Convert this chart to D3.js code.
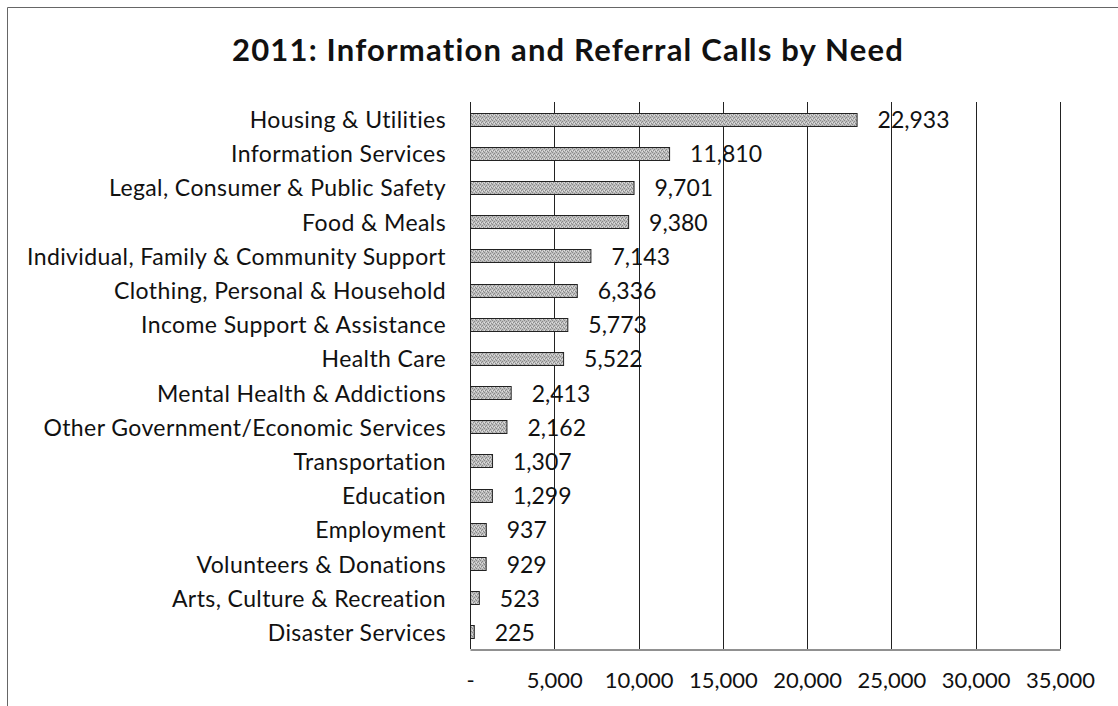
<!DOCTYPE html>
<html>
<head>
<meta charset="utf-8">
<script src="https://cdn.jsdelivr.net/npm/d3@7/dist/d3.min.js"></script>
<style>
  html, body { margin: 0; padding: 0; background: #fff; }
  svg { display: block; }
  text { font-family: Lato, "Liberation Sans", sans-serif; fill: #111; font-variant-ligatures: none; }
</style>
</head>
<body>
<svg id="chart" width="1118" height="706"></svg>
<script>
// Information and referral calls in 2011, by type of need
const categories = [
  "Housing & Utilities",
  "Information Services",
  "Legal, Consumer & Public Safety",
  "Food & Meals",
  "Individual, Family & Community Support",
  "Clothing, Personal & Household",
  "Income Support & Assistance",
  "Health Care",
  "Mental Health & Addictions",
  "Other Government/Economic Services",
  "Transportation",
  "Education",
  "Employment",
  "Volunteers & Donations",
  "Arts, Culture & Recreation",
  "Disaster Services"
];
const calls = [22933, 11810, 9701, 9380, 7143, 6336, 5773, 5522, 2413, 2162, 1307, 1299, 937, 929, 523, 225];
const tickValues = [0, 5000, 10000, 15000, 20000, 25000, 30000, 35000];
const titleText = "2011: Information and Referral Calls by Need";

const svg = d3.select("#chart");

// chart frame (top and left edges)
svg.append("path")
  .attr("d", "M7.5,706 V7.5 H1118")
  .attr("fill", "none")
  .attr("stroke", "#666")
  .attr("stroke-width", 1);

// dithered grey fill for the bars
const defs = svg.append("defs");
const pat = defs.append("pattern")
  .attr("id", "dither")
  .attr("width", 4).attr("height", 4)
  .attr("patternUnits", "userSpaceOnUse");
pat.append("rect").attr("width", 4).attr("height", 4).attr("fill", "#bdbdbd");
[[0,0],[2,1],[1,2],[3,3]].forEach(([px, py]) => {
  pat.append("rect").attr("x", px).attr("y", py).attr("width", 1).attr("height", 1).attr("fill", "#8a8a8a");
});
[[2,3],[0,2]].forEach(([px, py]) => {
  pat.append("rect").attr("x", px).attr("y", py).attr("width", 1).attr("height", 1).attr("fill", "#e0e0e0");
});

const plot = { left: 470, right: 1060, top: 102, bottom: 649 };

const x = d3.scaleLinear().domain([0, 35000]).range([plot.left, plot.right]);
const y = d3.scaleBand().domain(categories).range([plot.top, plot.bottom]).paddingInner(0.62).paddingOuter(0.31);

// title
svg.append("text")
  .attr("x", 568).attr("y", 49)
  .attr("text-anchor", "middle")
  .attr("dominant-baseline", "central")
  .style("font-weight", "bold")
  .style("font-size", "31px")
  .style("letter-spacing", "1.2px")
  .text(titleText);

// vertical gridlines
svg.append("g")
  .selectAll("line")
  .data(tickValues)
  .join("line")
  .attr("x1", d => Math.round(x(d)) + 0.5)
  .attr("x2", d => Math.round(x(d)) + 0.5)
  .attr("y1", plot.top)
  .attr("y2", plot.bottom)
  .attr("stroke", "#222")
  .attr("stroke-width", 1);

// bottom axis
const fmt = d3.format(",");
const xAxis = d3.axisBottom(x)
  .tickValues(tickValues)
  .tickSize(0)
  .tickPadding(23)
  .tickFormat(d => d === 0 ? "-" : fmt(d));
const gx = svg.append("g")
  .attr("transform", `translate(0,${plot.bottom + 0.5})`)
  .call(xAxis);
gx.select(".domain").attr("stroke", "#222");
gx.selectAll("text")
  .style("font-family", "Lato, sans-serif")
  .style("font-size", "22px")
  .attr("fill", "#111");

// bars
svg.append("g")
  .selectAll("rect")
  .data(calls)
  .join("rect")
  .attr("x", x(0) + 0.5)
  .attr("y", (d, i) => Math.round(y(categories[i])) + 0.5)
  .attr("width", d => x(d) - x(0))
  .attr("height", y.bandwidth())
  .attr("fill", "url(#dither)")
  .attr("stroke", "#222")
  .attr("stroke-width", 1);

// category labels
svg.append("g")
  .selectAll("text")
  .data(categories)
  .join("text")
  .attr("x", plot.left - 24)
  .attr("y", d => y(d) + y.bandwidth() / 2)
  .attr("text-anchor", "end")
  .attr("dominant-baseline", "central")
  .style("font-size", "23px")
  .style("letter-spacing", "0.4px")
  .text(d => d);

// value labels
svg.append("g")
  .selectAll("text")
  .data(calls)
  .join("text")
  .attr("x", d => x(d) + 21)
  .attr("y", (d, i) => y(categories[i]) + y.bandwidth() / 2)
  .attr("dominant-baseline", "central")
  .style("font-size", "23px")
  .text(d => fmt(d));
</script>
</body>
</html>
